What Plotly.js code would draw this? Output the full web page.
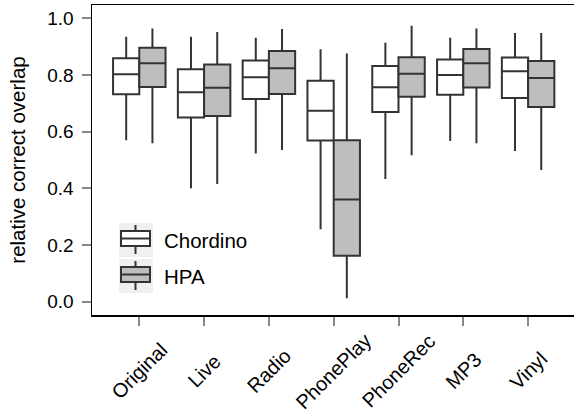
<!DOCTYPE html>
<html>
<head>
<meta charset="utf-8">
<script src="https://cdn.plot.ly/plotly-3.0.1.min.js"></script>
<style>html,body{margin:0;padding:0;background:#fff;}#chart{width:574px;height:412px;}</style>
</head>
<body>
<div id="chart"></div>
<script>
// ---- data ----
var categories = ["Original", "Live", "Radio", "PhonePlay", "PhoneRec", "MP3", "Vinyl"];

var chordinoLow    = [0.570, 0.400, 0.523, 0.256, 0.433, 0.567, 0.532];
var chordinoQ1     = [0.732, 0.650, 0.715, 0.569, 0.669, 0.730, 0.719];
var chordinoMedian = [0.803, 0.739, 0.792, 0.674, 0.757, 0.800, 0.813];
var chordinoQ3     = [0.859, 0.820, 0.851, 0.780, 0.832, 0.855, 0.862];
var chordinoHigh   = [0.935, 0.935, 0.931, 0.891, 0.914, 0.931, 0.948];

var hpaLow    = [0.559, 0.415, 0.535, 0.012, 0.517, 0.559, 0.465];
var hpaQ1     = [0.758, 0.655, 0.733, 0.162, 0.723, 0.756, 0.687];
var hpaMedian = [0.841, 0.755, 0.824, 0.361, 0.804, 0.841, 0.789];
var hpaQ3     = [0.896, 0.837, 0.885, 0.570, 0.863, 0.892, 0.849];
var hpaHigh   = [0.964, 0.952, 0.962, 0.876, 0.974, 0.964, 0.948];

var seriesNames = ["Chordino", "HPA"];
var yTicks = [0.0, 0.2, 0.4, 0.6, 0.8, 1.0];
var yTickText = ["0.0", "0.2", "0.4", "0.6", "0.8", "1.0"];

// ---- styling ----
var FONT = "Liberation Sans, Arial, Helvetica, sans-serif";
var LINE = "#333333";
var FILLS = ["#ffffff", "#bebebe"];

function boxTrace(name, low, q1, med, q3, high, fill) {
  return {
    type: "box",
    name: name,
    x: categories,
    lowerfence: low,
    q1: q1,
    median: med,
    q3: q3,
    upperfence: high,
    fillcolor: fill,
    line: {color: LINE, width: 2},
    whiskerwidth: 0,
    boxpoints: false,
    showlegend: false,
    hoverinfo: "skip"
  };
}

var traces = [
  boxTrace(seriesNames[0], chordinoLow, chordinoQ1, chordinoMedian, chordinoQ3, chordinoHigh, FILLS[0]),
  boxTrace(seriesNames[1], hpaLow, hpaQ1, hpaMedian, hpaQ3, hpaHigh, FILLS[1])
];

// plot area in pixels
var W = 574, H = 412;
var mL = 92, mR = 0, mT = 5, mB = 97;
var pw = W - mL - mR, ph = H - mT - mB;
function px(x) { return (x - mL) / pw; }
function py(y) { return (H - mB - y) / ph; }

var shapes = [];
var annotations = [];

// category labels, rotated 45 degrees and centred under each tick
for (var c = 0; c < categories.length; c++) {
  annotations.push({xref: "x", yref: "paper", x: categories[c], y: py(371), xanchor: "center", yanchor: "middle",
                    text: categories[c], textangle: -45, showarrow: false,
                    font: {family: FONT, size: 20, color: "#000"}});
}

// manual legend (keys + labels)
var keyTops = [223, 259];
for (var i = 0; i < 2; i++) {
  var t = keyTops[i];
  shapes.push({type: "rect", xref: "paper", yref: "paper", x0: px(119), x1: px(153), y0: py(t), y1: py(t + 34),
               fillcolor: "#f0f0f0", line: {width: 0}, layer: "above"});
  shapes.push({type: "line", xref: "paper", yref: "paper", x0: px(135.5), x1: px(135.5), y0: py(t + 2), y1: py(t + 31),
               line: {color: LINE, width: 2}, layer: "above"});
  shapes.push({type: "rect", xref: "paper", yref: "paper", x0: px(121), x1: px(150), y0: py(t + 8), y1: py(t + 23),
               fillcolor: FILLS[i], line: {color: LINE, width: 2}, layer: "above"});
  shapes.push({type: "line", xref: "paper", yref: "paper", x0: px(121), x1: px(150), y0: py(t + 15.5), y1: py(t + 15.5),
               line: {color: LINE, width: 2}, layer: "above"});
  annotations.push({xref: "paper", yref: "paper", x: px(162), y: py(t + 17), xanchor: "left", yanchor: "middle",
                    text: seriesNames[i], showarrow: false, font: {family: FONT, size: 20.5, color: "#000"}});
}

var layout = {
  width: W, height: H,
  margin: {l: mL, r: mR, t: mT, b: mB, pad: 0},
  paper_bgcolor: "#fff",
  plot_bgcolor: "#fff",
  boxmode: "group",
  boxgap: 0.19,
  boxgroupgap: 0,
  showlegend: false,
  font: {family: FONT, color: "#000"},
  xaxis: {
    type: "category",
    range: [-0.73, -0.73 + pw / 64.8],
    showgrid: false, zeroline: false,
    showline: true, mirror: true, linecolor: "#000", linewidth: 1.5,
    ticks: "outside", ticklen: 9, tickwidth: 2, tickcolor: "#888888",
    showticklabels: false
  },
  yaxis: {
    range: [-0.047, 1.047],
    tickvals: yTicks, ticktext: yTickText,
    showgrid: false, zeroline: false,
    showline: true, mirror: true, linecolor: "#000", linewidth: 1.5,
    ticks: "outside", ticklen: 9, tickwidth: 2, tickcolor: "#888888",
    ticklabelstandoff: 4,
    tickfont: {family: FONT, size: 19, color: "#000"},
    title: {text: "relative correct overlap", font: {family: FONT, size: 20.5, color: "#000"}, standoff: 16}
  },
  shapes: shapes,
  annotations: annotations
};

Plotly.newPlot("chart", traces, layout, {staticPlot: true, displayModeBar: false});
</script>
</body>
</html>
